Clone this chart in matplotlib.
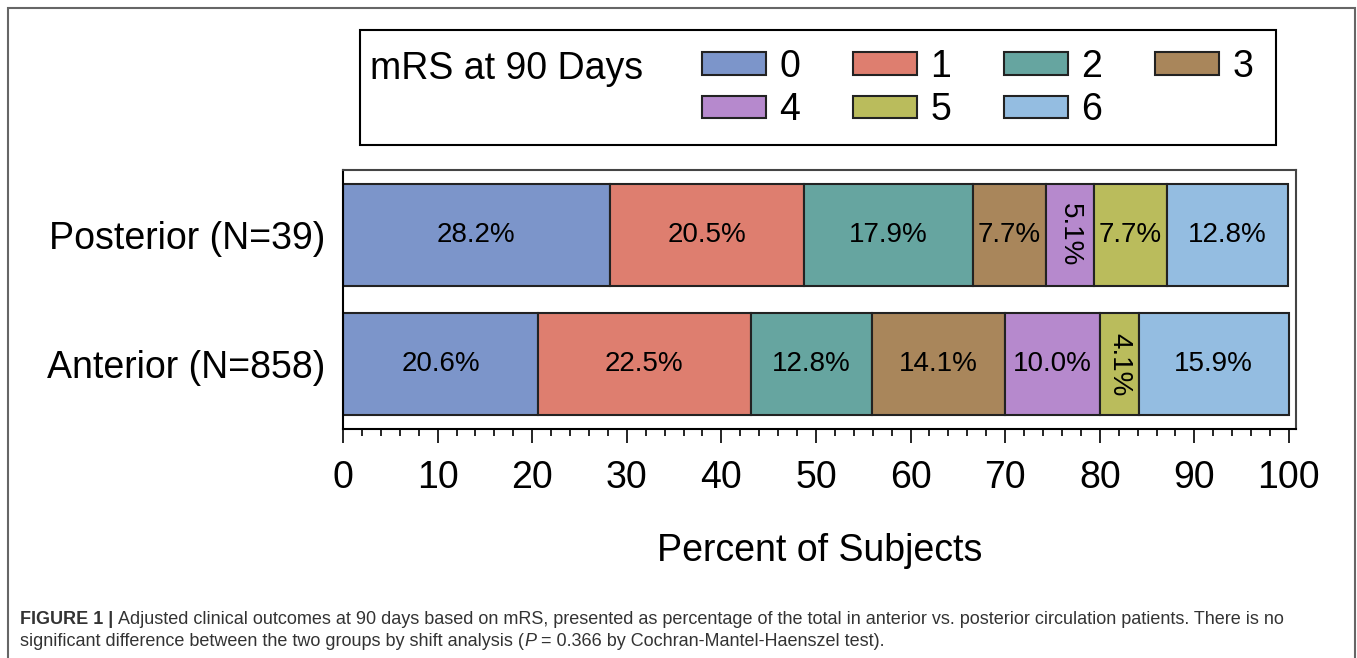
import numpy as np
import matplotlib.pyplot as plt
from matplotlib.patches import Rectangle
from matplotlib.ticker import MultipleLocator

plt.rcParams['font.family'] = ['Liberation Sans', 'DejaVu Sans']

groups = ['Anterior (N=858)', 'Posterior (N=39)']
mrs_levels = ['0', '1', '2', '3', '4', '5', '6']
anterior = [20.6, 22.5, 12.8, 14.1, 10.0, 4.1, 15.9]
posterior = [28.2, 20.5, 17.9, 7.7, 5.1, 7.7, 12.8]
colors = ['#7C95CA', '#DE7E6F', '#66A5A0', '#A9865B', '#B689CD', '#BABC5C', '#94BDE1']
xticks = [0, 10, 20, 30, 40, 50, 60, 70, 80, 90, 100]

fig = plt.figure(figsize=(13.57, 6.58), dpi=100)
ax = fig.add_axes([0.2528, 0.348, 0.7022, 0.3936])

values = np.array([anterior, posterior])
y = np.arange(len(groups))
left = np.zeros(len(groups))
for i, lev in enumerate(mrs_levels):
    ax.barh(y, values[:, i], left=left, height=0.79, color=colors[i],
            edgecolor='#222222', linewidth=1.5, label=lev)
    for j in range(len(groups)):
        v = values[j, i]
        rot = -90 if v < 6 else 0   # narrow segments get vertical labels
        ax.text(left[j] + v / 2, y[j], f'{v:.1f}%', ha='center', va='center',
                rotation=rot, fontsize=20, color='black')
    left += values[:, i]

ax.set_xlim(0, 100.74)
ax.set_ylim(-0.5, 1.5)
ax.set_xticks(xticks)
ax.xaxis.set_minor_locator(MultipleLocator(2))
ax.set_yticks(y)
ax.set_yticklabels(groups)
ax.tick_params(axis='x', which='major', direction='out', length=10, width=1.2,
               labelsize=27, pad=12)
ax.tick_params(axis='x', which='minor', direction='out', length=5, width=1.2)
ax.tick_params(axis='y', length=0, labelsize=27, pad=13)
ax.set_xlabel('Percent of Subjects', fontsize=27, labelpad=27)
for s in ['top', 'right']:
    ax.spines[s].set_color('#444444')
    ax.spines[s].set_linewidth(1.5)
for s in ['bottom', 'left']:
    ax.spines[s].set_color('black')
    ax.spines[s].set_linewidth(1.5)

# legend: framed box with the title on the left
fig.add_artist(Rectangle((0.2653, 0.7796), 0.675, 0.1748, transform=fig.transFigure,
                         fill=False, edgecolor='black', linewidth=1.5))
fig.text(0.2727, 0.8955, 'mRS at 90 Days', fontsize=27, va='center', ha='left')
handles, labels = ax.get_legend_handles_labels()
order = [0, 4, 1, 5, 2, 6, 3]
fig.legend([handles[k] for k in order], [labels[k] for k in order], ncol=4,
           loc='center left', bbox_to_anchor=(0.5173, 0.8655), frameon=False,
           fontsize=27, handlelength=1.7, handleheight=0.55, handletextpad=0.37,
           columnspacing=1.4, labelspacing=0.2, borderpad=0, borderaxespad=0)

# outer figure frame
fig.add_artist(Rectangle((8 / 1357, -0.1), 1347 / 1357, 1.0878, transform=fig.transFigure,
                         fill=False, edgecolor='#666666', linewidth=1.5))

# caption with mixed styles
renderer = fig.canvas.get_renderer()
cap_size = 13
space = 0.28 * cap_size * 100 / 72 / fig.bbox.width


def chain(parts, x, yb):
    for s, kw in parts:
        if s.startswith(' '):
            x += space
        t = fig.text(x, yb, s.strip(), fontsize=cap_size, color='#333333',
                     va='baseline', ha='left', **kw)
        bb = t.get_window_extent(renderer)
        x = fig.transFigure.inverted().transform((bb.x1, bb.y0))[0]
        if s.endswith(' '):
            x += space


chain([('FIGURE 1 | ', {'fontweight': 'bold'}),
       ('Adjusted clinical outcomes at 90 days based on mRS, presented as percentage of the '
        'total in anterior vs. posterior circulation patients. There is no', {})],
      20 / 1357, 1 - 624 / 658)
chain([('significant difference between the two groups by shift analysis (', {}),
       ('P', {'style': 'italic'}),
       (' = 0.366 by Cochran-Mantel-Haenszel test).', {})],
      20 / 1357, 1 - 646 / 658)

fig.savefig('out.png', dpi=100)
